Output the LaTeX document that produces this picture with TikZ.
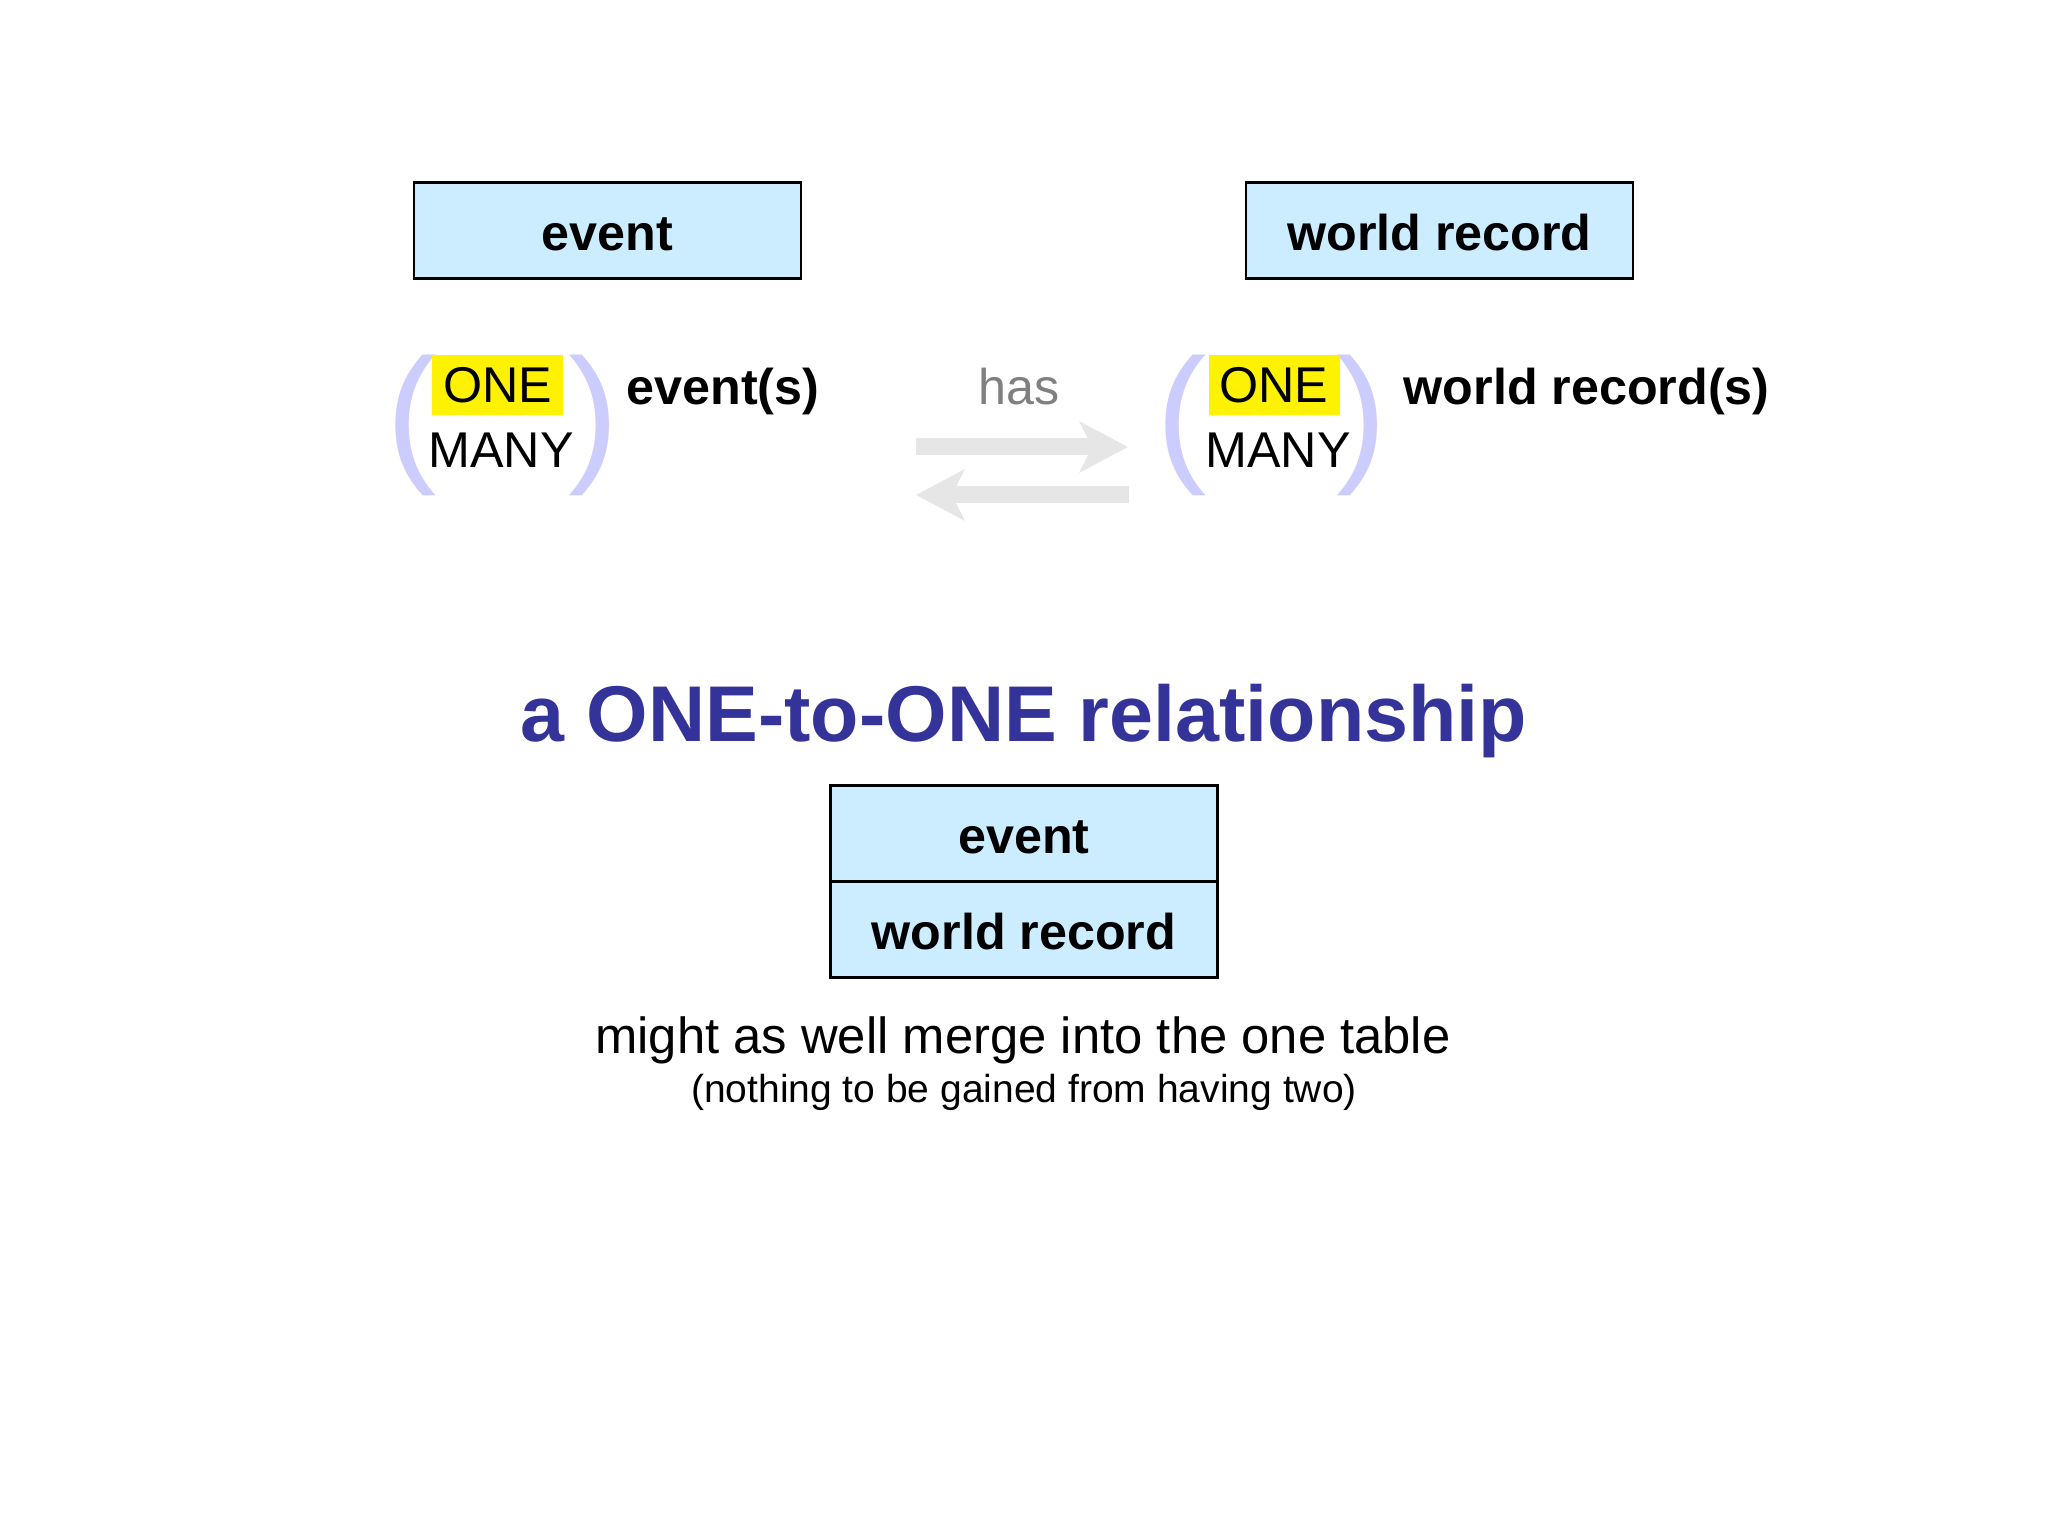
\documentclass[tikz,border=0pt]{standalone}
\usepackage{fontspec}
\setmainfont{Liberation Sans}
\usepackage{xcolor}
\usepackage{tikz}
\usetikzlibrary{positioning,arrows.meta}

\definecolor{boxblue}{RGB}{204,236,255}
\definecolor{parenlav}{RGB}{204,204,255}
\definecolor{arrowgray}{RGB}{230,230,230}
\definecolor{titleblue}{RGB}{51,51,153}
\definecolor{hasgray}{RGB}{128,128,128}

\tikzset{
  tablebox/.style={draw=black, line width=0.6pt, fill=boxblue, minimum width=3.87cm,
    minimum height=0.96cm, inner sep=0pt, outer sep=0pt, text height=0.5cm, text depth=0.1cm,
    font=\fontsize{14.3}{16}\selectfont\bfseries},
  bigparen/.style={text=parenlav, inner sep=0pt, font=\fontsize{43}{48}\selectfont},
  oneword/.style={fill=yellow, minimum width=1.31cm, minimum height=0.6cm, inner sep=0pt,
    text height=0.36cm, text depth=0pt, font=\fontsize{14.3}{16}\selectfont},
  plainword/.style={inner sep=0pt, anchor=base, font=\fontsize{14.3}{16}\selectfont},
  boldword/.style={plainword, font=\fontsize{14.3}{16}\selectfont\bfseries},
  hasarrow/.style={draw=arrowgray, line width=0.17cm,
    -{Stealth[length=0.48cm,width=0.5cm,inset=0.12cm]}}
}

\begin{document}
\begin{tikzpicture}
	\path[fill=white] (0,0) rectangle (20.48,-15.36);
	% the two tables
	\node[tablebox] (ev) at (6.075,-2.305) {event};
	\node[tablebox] (wr) at (14.395,-2.305) {world record};
	% left cardinality
	\node[bigparen] (lpL) at (4.115,-4.25) {(};
	\node[bigparen] (rpL) at (5.935,-4.25) {)};
	\node[oneword] (oneL) at (4.975,-3.85) {ONE};
	\node[plainword] (manyL) at (5.01,-4.67) {MANY};
	\node[boldword, anchor=base west] (evs) at (6.26,-4.05) {event(s)};
	% right cardinality
	\node[bigparen] (lpR) at (11.815,-4.25) {(};
	\node[bigparen] (rpR) at (13.615,-4.25) {)};
	\node[oneword] (oneR) at (12.74,-3.85) {ONE};
	\node[plainword] (manyR) at (12.78,-4.67) {MANY};
	\node[boldword, anchor=base west] (wrs) at (14.03,-4.05) {world record(s)};
	% has
	\node[plainword, text=hasgray] (has) at (10.19,-4.05) {has};
	\coordinate (fwdA) at (9.16,-4.47);
	\coordinate (fwdB) at (11.28,-4.47);
	\coordinate (bckA) at (11.29,-4.95);
	\coordinate (bckB) at (9.16,-4.95);
	\draw[hasarrow] (fwdA) -- (fwdB);
	\draw[hasarrow] (bckA) -- (bckB);
	% verdict
	\node[inner sep=0pt, anchor=base, text=titleblue, font=\fontsize{22.5}{26}\selectfont\bfseries]
	  (title) at (10.24,-7.41) {a ONE-to-ONE relationship};
	\node[tablebox] (mev) at (10.24,-8.335) {event};
	\node[tablebox, below=0pt of mev] (mwr) {world record};
	\node[plainword, font=\fontsize{14.45}{16}\selectfont] (merge) at (10.23,-10.53)
	  {might as well merge into the one table};
	\node[plainword, font=\fontsize{11.1}{13}\selectfont] (gain) at (10.24,-11.02)
	  {(nothing to be gained from having two)};
\end{tikzpicture}
\end{document}
